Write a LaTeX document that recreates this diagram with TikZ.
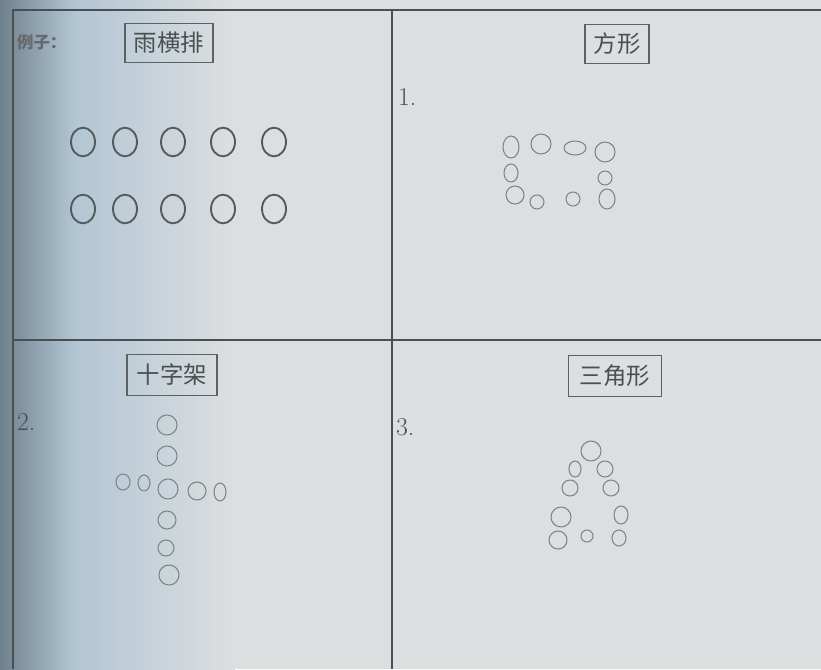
\documentclass[tikz,border=0pt]{standalone}
\usepackage{fontspec}
\newfontfamily\cjk{Noto Sans CJK SC}
\usetikzlibrary{shapes.geometric}
\definecolor{PageGray}{HTML}{DCDFDF}
\definecolor{PageBlue}{HTML}{B3C6D4}
\definecolor{PageShade}{HTML}{6F818D}
\definecolor{RuleInk}{HTML}{4A4F52}
\definecolor{PenInk}{HTML}{7E8386}
\definecolor{PrintInk}{HTML}{55595C}
\tikzset{
  gridrule/.style={draw=RuleInk, line width=1.1pt},
  tagbox/.style={draw=RuleInk!90, line width=0.9pt, inner sep=1pt, font=\cjk\fontsize{20}{23}\selectfont, text=RuleInk, minimum height=1.15cm},
  numlabel/.style={font=\fontsize{22}{25}\selectfont, text=RuleInk, anchor=west},
  printdot/.style={draw=PrintInk, line width=1.6pt, ellipse, minimum width=0.72cm, minimum height=0.86cm, inner sep=0pt},
  pendot/.style 2 args={draw=PenInk, line width=0.9pt, ellipse, inner sep=0pt, minimum width=#1*0.06cm, minimum height=#2*0.06cm}
}
\begin{document}
\begin{tikzpicture}[x=0.03cm, y=-0.03cm]
\useasboundingbox (0,0) rectangle (821,669);
% paper
\fill[PageGray] (0,0) rectangle (821,669);
\shade[left color=PageShade, right color=PageBlue] (0,0) rectangle (75,669);
\shade[left color=PageBlue, right color=PageGray] (75,0) rectangle (235,669);
% table rules
\draw[gridrule] (13,669) -- (13,10) -- (821,10);
\draw[gridrule] (392,10) -- (392,669);
\draw[gridrule] (13,340) -- (821,340);

% example cell
\node[font=\cjk\bfseries\fontsize{14}{16}\selectfont, text=RuleInk!85, anchor=west] (exlbl) at (13,42) {例子：};
\node[tagbox, minimum width=2.64cm] (rowtag) at (169,43) {雨横排};
\foreach \cx [count=\i] in {83,125,173,223,274} {
  \node[printdot] (top\i) at (\cx,142) {};
  \node[printdot] (bot\i) at (\cx,209) {};
}

% square cell
\node[tagbox, minimum width=1.92cm] (sqtag) at (617,44) {方形};
\node[numlabel] (sqnum) at (394,97) {1.};
\node[pendot={8}{11}] (sq1) at (511,147) {};
\node[pendot={10}{10}] (sq2) at (541,144) {};
\node[pendot={11}{7}] (sq3) at (575,148) {};
\node[pendot={10}{10}] (sq4) at (605,152) {};
\node[pendot={7}{9}] (sq5) at (511,173) {};
\node[pendot={7}{7}] (sq6) at (605,178) {};
\node[pendot={9}{9}] (sq7) at (515,195) {};
\node[pendot={7}{7}] (sq8) at (537,202) {};
\node[pendot={7}{7}] (sq9) at (573,199) {};
\node[pendot={8}{10}] (sq10) at (607,199) {};

% cross cell
\node[tagbox, minimum width=2.7cm, minimum height=1.23cm] (crtag) at (172,375) {十字架};
\node[numlabel] (crnum) at (13,422) {2.};
\node[pendot={10}{10}] (cr1) at (167,425) {};
\node[pendot={10}{10}] (cr2) at (167,456) {};
\node[pendot={7}{8}] (cr3) at (123,482) {};
\node[pendot={6}{8}] (cr4) at (144,483) {};
\node[pendot={10}{10}] (cr5) at (168,489) {};
\node[pendot={9}{9}] (cr6) at (197,491) {};
\node[pendot={6}{9}] (cr7) at (220,492) {};
\node[pendot={9}{9}] (cr8) at (167,520) {};
\node[pendot={8}{8}] (cr9) at (166,548) {};
\node[pendot={10}{10}] (cr10) at (169,575) {};

% triangle cell
\node[tagbox, minimum width=2.79cm, minimum height=1.23cm] (trtag) at (615,376) {三角形};
\node[numlabel] (trnum) at (392,427) {3.};
\node[pendot={10}{10}] (tr1) at (591,451) {};
\node[pendot={6}{8}] (tr2) at (575,469) {};
\node[pendot={8}{8}] (tr3) at (605,469) {};
\node[pendot={8}{8}] (tr4) at (570,488) {};
\node[pendot={8}{8}] (tr5) at (611,488) {};
\node[pendot={10}{10}] (tr6) at (561,517) {};
\node[pendot={7}{9}] (tr7) at (621,515) {};
\node[pendot={9}{9}] (tr8) at (558,540) {};
\node[pendot={6}{6}] (tr9) at (587,536) {};
\node[pendot={7}{8}] (tr10) at (619,538) {};
\end{tikzpicture}
\end{document}
